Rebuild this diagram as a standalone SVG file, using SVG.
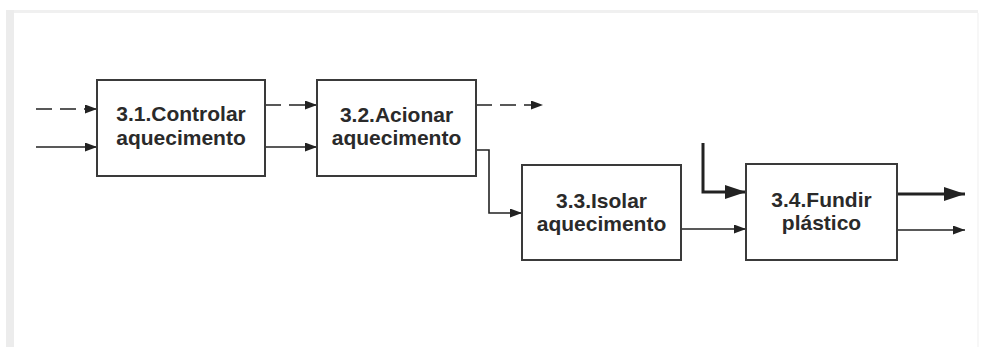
<svg xmlns="http://www.w3.org/2000/svg" width="981" height="347" viewBox="0 0 981 347">
  <style>
    .box { fill: #ffffff; stroke: #3a3a3a; stroke-width: 2; }
    .lbl { font-family: "Liberation Sans", Arial, sans-serif; font-weight: bold; font-size: 21px; fill: #2a2a2a; text-anchor: middle; }
    .ln { fill: none; stroke: #222222; stroke-width: 1.6; }
    .dash { stroke-dasharray: 16 8; }
    .thick { stroke-width: 3; }
  </style>
  <defs>
    <marker id="arrow" markerUnits="userSpaceOnUse" markerWidth="13" markerHeight="9" refX="12" refY="4.5" orient="auto">
      <path d="M0,0 L12,4.5 L0,9 Z" fill="#222222"/>
    </marker>
    <marker id="arrowBig" markerUnits="userSpaceOnUse" markerWidth="22" markerHeight="14" refX="21" refY="7" orient="auto">
      <path d="M0,0 L21,7 L0,14 Z" fill="#222222"/>
    </marker>
  </defs>

  <!-- page frame -->
  <rect x="0" y="0" width="981" height="347" fill="#ffffff"/>
  <rect x="6" y="10" width="972" height="3" fill="#f0f0f0"/>
  <rect x="6" y="10" width="8" height="337" fill="#ececec"/>
  <rect x="977" y="13" width="2" height="334" fill="#f7f7f7"/>

  <!-- connectors -->
  <g id="connectors">
    <line class="ln dash" x1="36" y1="109" x2="97" y2="109" marker-end="url(#arrow)"/>
    <line class="ln" x1="36" y1="147" x2="97" y2="147" marker-end="url(#arrow)"/>
    <line class="ln dash" x1="265" y1="105" x2="317" y2="105" marker-end="url(#arrow)"/>
    <line class="ln" x1="265" y1="147" x2="317" y2="147" marker-end="url(#arrow)"/>
    <line class="ln dash" x1="476" y1="105" x2="543" y2="105" marker-end="url(#arrow)"/>
    <polyline class="ln" points="476,150 489,150 489,213 522,213" marker-end="url(#arrow)"/>
    <line class="ln" x1="681" y1="229" x2="746" y2="229" marker-end="url(#arrow)"/>
    <polyline class="ln thick" points="703,143 703,192 746,192" marker-end="url(#arrowBig)"/>
    <line class="ln thick" x1="897" y1="194" x2="965" y2="194" marker-end="url(#arrowBig)"/>
    <line class="ln" x1="897" y1="230" x2="965" y2="230" marker-end="url(#arrow)"/>
  </g>

  <!-- nodes -->
  <g id="n31">
    <rect class="box" x="97" y="80" width="168" height="96"/>
    <text class="lbl" x="181" y="121">3.1.Controlar</text>
    <text class="lbl" x="181" y="145">aquecimento</text>
  </g>
  <g id="n32">
    <rect class="box" x="317" y="80" width="159" height="96"/>
    <text class="lbl" x="396.5" y="122">3.2.Acionar</text>
    <text class="lbl" x="396.5" y="145">aquecimento</text>
  </g>
  <g id="n33">
    <rect class="box" x="522" y="165" width="159" height="95"/>
    <text class="lbl" x="601.5" y="208">3.3.Isolar</text>
    <text class="lbl" x="601.5" y="231">aquecimento</text>
  </g>
  <g id="n34">
    <rect class="box" x="746" y="164" width="151" height="96"/>
    <text class="lbl" x="821.5" y="207">3.4.Fundir</text>
    <text class="lbl" x="821.5" y="230">plástico</text>
  </g>
</svg>
